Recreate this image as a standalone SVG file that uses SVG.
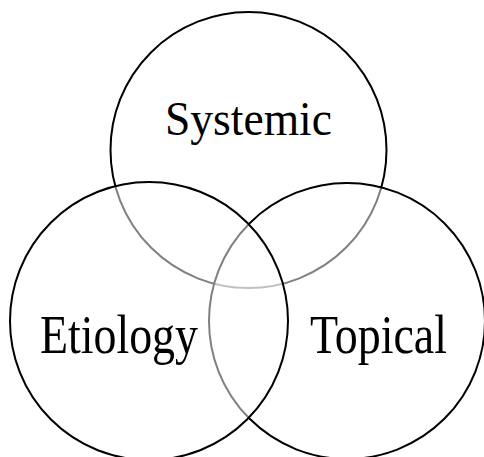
<svg xmlns="http://www.w3.org/2000/svg" width="484" height="457" viewBox="0 0 484 457">
<style>
.c{fill:#fff;fill-opacity:0.5;stroke:#000;stroke-width:2}
.t{font-family:"Liberation Serif","DejaVu Serif",serif;fill:#000}
</style>
<rect width="484" height="457" fill="#fff"/>
<g id="connectors"></g>
<g id="systemic"><circle class="c" cx="248.5" cy="150" r="138"/></g>
<g id="topical"><circle class="c" cx="347" cy="321" r="138"/></g>
<g id="etiology"><circle class="c" cx="149" cy="321" r="139"/></g>
<g id="labels">
<text class="t" x="165" y="135" font-size="49" textLength="167" lengthAdjust="spacingAndGlyphs">Systemic</text>
<text class="t" x="40" y="353" font-size="54" textLength="158" lengthAdjust="spacingAndGlyphs">Etiology</text>
<text class="t" x="310" y="353" font-size="54" textLength="137" lengthAdjust="spacingAndGlyphs">Topical</text>
</g>
</svg>
